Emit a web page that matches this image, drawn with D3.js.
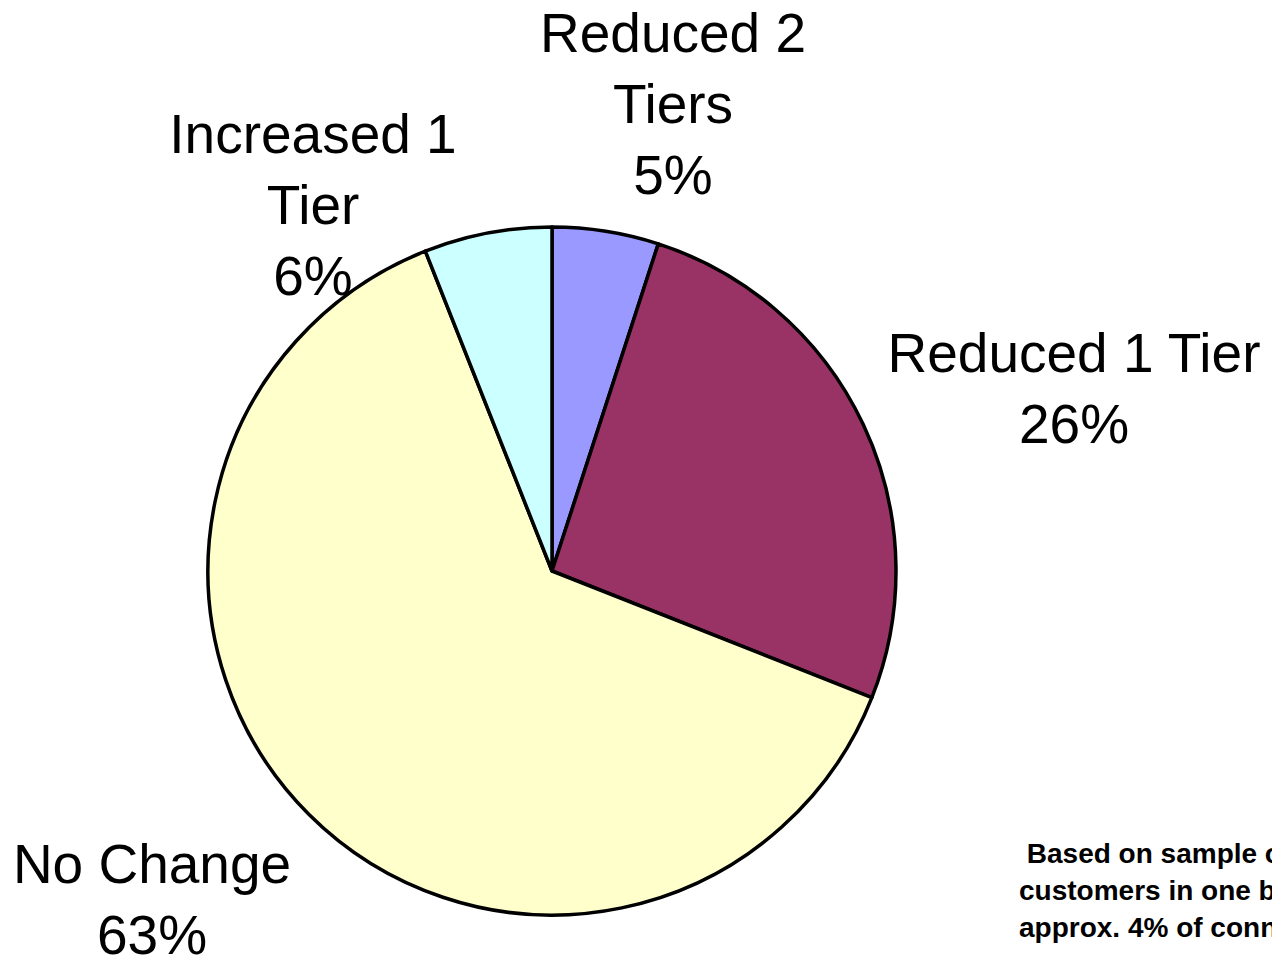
<!DOCTYPE html>
<html>
<head>
<meta charset="utf-8">
<script src="https://cdn.jsdelivr.net/npm/d3@7"></script>
<style>
  html, body { margin: 0; padding: 0; background: #fff; overflow: hidden; }
  svg { display: block; }
</style>
</head>
<body>
<svg id="chart" width="1272" height="963"></svg>
<script>
// Tier change shares, clockwise from 12 o'clock
const categories = ["Reduced 2 Tiers", "Reduced 1 Tier", "No Change", "Increased 1 Tier"];
const values = [5, 26, 63, 6];
const colors = ["#9999FF", "#993366", "#FFFFCC", "#CCFFFF"];
// Label lines for each slice (category text split as shown, then the percentage)
const labelLines = [
  ["Reduced 2", "Tiers"],
  ["Reduced 1 Tier"],
  ["No Change"],
  ["Increased 1", "Tier"]
];
const footnote = [" Based on sample of", "customers in one billing cycle", "approx. 4% of connections"];

const svg = d3.select("#chart");
const cx = 552, cy = 571, r = 344;

const pie = d3.pie().sort(null).value(d => d.value);
const arc = d3.arc().innerRadius(0).outerRadius(r);
const data = categories.map((c, i) => ({ name: c, value: values[i], color: colors[i], lines: labelLines[i] }));
const arcs = pie(data);

const g = svg.append("g").attr("transform", `translate(${cx},${cy})`);
g.selectAll("path")
  .data(arcs)
  .join("path")
  .attr("d", arc)
  .attr("fill", d => d.data.color)
  .attr("stroke", "#000")
  .attr("stroke-width", 3.5)
  .attr("stroke-linejoin", "round");

// Label anchor points (centre x, first baseline y) and line spacing
const labelPos = [
  { x: 673, y: 52 },
  { x: 1074, y: 372 },
  { x: 152, y: 883 },
  { x: 313, y: 153 }
];
const lineH = 71;
const total = d3.sum(values);

const labels = svg.append("g")
  .attr("font-family", "'Liberation Sans', Arial, sans-serif")
  .attr("font-size", 55)
  .attr("fill", "#000")
  .attr("text-anchor", "middle");

arcs.forEach((a, i) => {
  const lines = a.data.lines.concat([Math.round(a.data.value / total * 100) + "%"]);
  const t = labels.append("text").attr("x", labelPos[i].x).attr("y", labelPos[i].y);
  lines.forEach((ln, k) => {
    t.append("tspan")
      .attr("x", labelPos[i].x)
      .attr("dy", k === 0 ? 0 : lineH)
      .text(ln);
  });
});

// Footnote, bottom right
const fn = svg.append("text")
  .attr("font-family", "'Liberation Sans', Arial, sans-serif")
  .attr("font-size", 28)
  .attr("font-weight", "bold")
  .attr("fill", "#000")
  .attr("xml:space", "preserve")
  .attr("x", 1019)
  .attr("y", 863);
footnote.forEach((ln, k) => {
  fn.append("tspan").attr("x", 1019).attr("dy", k === 0 ? 0 : 37).text(ln);
});
</script>
</body>
</html>
